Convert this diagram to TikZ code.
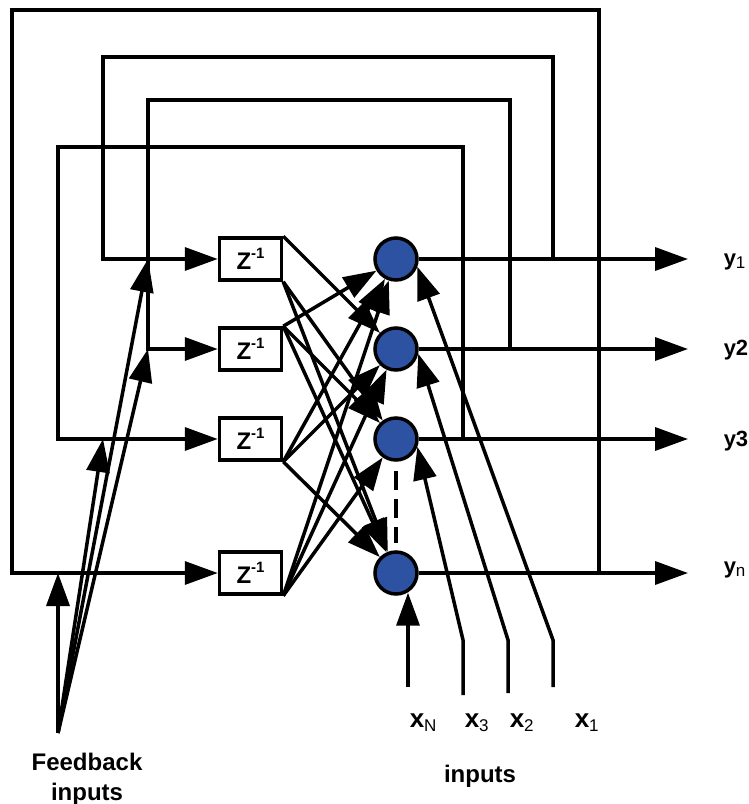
\documentclass[tikz,border=0pt]{standalone}
\usepackage{fontspec}
\setmainfont{Liberation Sans}
\usetikzlibrary{arrows.meta,calc}
\definecolor{neuronblue}{RGB}{46,82,162}
\newcommand\lowsub[3]{\raisebox{-#2pt}{\fontsize{#1}{#1}\selectfont\mdseries #3}}
\newcommand\zinv{Z\raisebox{0.48em}{\fontsize{15}{15}\selectfont -1}}
\begin{document}
\begin{tikzpicture}[x=1pt,y=-1pt,line width=3.5pt,line join=miter,
  arr/.style={-{Triangle[length=33pt,width=23pt]}},
  zbox/.style={draw,fill=white,minimum width=62pt,minimum height=42pt,inner sep=0pt,
    font=\fontsize{24}{24}\selectfont\bfseries},
  nrn/.style={circle,draw,fill=neuronblue,minimum size=42pt,inner sep=0pt},
  ylbl/.style={inner sep=0pt,anchor=base west,font=\fontsize{22}{22}\selectfont\bfseries},
  xlbl/.style={inner sep=0pt,anchor=base west,font=\fontsize{26}{26}\selectfont\bfseries},
  txt/.style={inner sep=0pt,font=\fontsize{24}{30}\selectfont\bfseries,align=center}]
\useasboundingbox (0,0) rectangle (748,804);

% delay boxes
\node[zbox] (Z1) at (250.5,259) {\zinv};
\node[zbox] (Z2) at (250.5,349) {\zinv};
\node[zbox] (Z3) at (250.5,439) {\zinv};
\node[zbox] (Z4) at (250.5,573) {\zinv};

% neurons
\node[nrn] (N1) at (396,259) {};
\node[nrn] (N2) at (396,349) {};
\node[nrn] (N3) at (396,439) {};
\node[nrn] (N4) at (396,573) {};

% output labels
\node[ylbl] (y1) at (722,265) {y\lowsub{17}{3}{1}};
\node[ylbl] (y2) at (722,355) {y2};
\node[ylbl] (y3) at (722,446) {y3};
\node[ylbl] (yn) at (722,573) {y\lowsub{17}{3}{n}};

% input labels
\node[xlbl] (xN) at (408,727) {x\lowsub{17}{4}{N}};
\node[xlbl] (x3) at (463,727) {x\lowsub{17}{4}{3}};
\node[xlbl] (x2) at (508,727) {x\lowsub{17}{4}{2}};
\node[xlbl] (x1) at (573,727) {x\lowsub{17}{4}{1}};
\node[txt,anchor=base] (inl) at (480,782) {inputs};
\node[txt] (fbl) at (87,779) {Feedback\\inputs};

% coordinates
\coordinate (outx) at (688,0);
\coordinate (c1a) at (599,10);  \coordinate (c1b) at (12,10);
\coordinate (c2a) at (553,57);  \coordinate (c2b) at (103,57);
\coordinate (c3a) at (510,100); \coordinate (c3b) at (148,100);
\coordinate (c4a) at (463,147); \coordinate (c4b) at (58,147);
\coordinate (fb) at (58,733);
\coordinate (iNb) at (408,687);
\coordinate (i3b) at (463,695); \coordinate (i3t) at (463,640);
\coordinate (i2b) at (508,693); \coordinate (i2t) at (508,640);
\coordinate (i1b) at (553,687); \coordinate (i1t) at (553,640);

% outputs
\draw[arr] (N1.east) -- (N1.east -| outx);
\draw[arr] (N2.east) -- (N2.east -| outx);
\draw[arr] (N3.east) -- (N3.east -| outx);
\draw[arr] (N4.east) -- (N4.east -| outx);

% feedback loops
\draw[arr] (N4.east -| c1a) -- (c1a) -- (c1b) |- (Z4.west);
\draw[arr] (N1.east -| c2a) -- (c2a) -- (c2b) |- (Z1.west);
\draw[arr] (N2.east -| c3a) -- (c3a) -- (c3b) |- (Z2.west);
\draw[arr] (N3.east -| c4a) -- (c4a) -- (c4b) |- (Z3.west);

% external feedback inputs
\draw[arr] (fb) -- (fb |- Z4.west);
\draw[arr] (fb) -- (c2b |- Z3.west);
\draw[arr] (fb) -- (c3b |- Z2.west);
\draw[arr] (fb) -- (c3b |- Z1.west);

% delayed signals to neurons
\draw[arr] (Z1.north east) -- (N2);
\draw[arr] (Z1.south east) -- (N3);
\draw[arr] (Z1.south east) -- (N4);
\draw[arr] (Z2.north east) -- (N1);
\draw[arr] (Z2.north east) -- (N3);
\draw[arr] (Z2.north east) -- (N4);
\draw[arr] (Z3.south east) -- (N1);
\draw[arr] (Z3.south east) -- (N2);
\draw[arr] (Z3.south east) -- (N4);
\draw[arr] (Z4.south east) -- (N1);
\draw[arr] (Z4.south east) -- (N2);
\draw[arr] (Z4.south east) -- (N3);

% dashed continuation
\draw[dash pattern=on 19pt off 9pt] ([yshift=-9pt]N3.south) -- ([yshift=7pt]N4.north);

% external inputs
\draw[arr] (iNb) -- (iNb |- N4.-60);
\draw[arr] (i3b) -- (i3t) -- (N3.-20);
\draw[arr] (i2b) -- (i2t) -- (N2.-12);
\draw[arr] (i1b) -- (i1t) -- (N1.-20);
\end{tikzpicture}
\end{document}
